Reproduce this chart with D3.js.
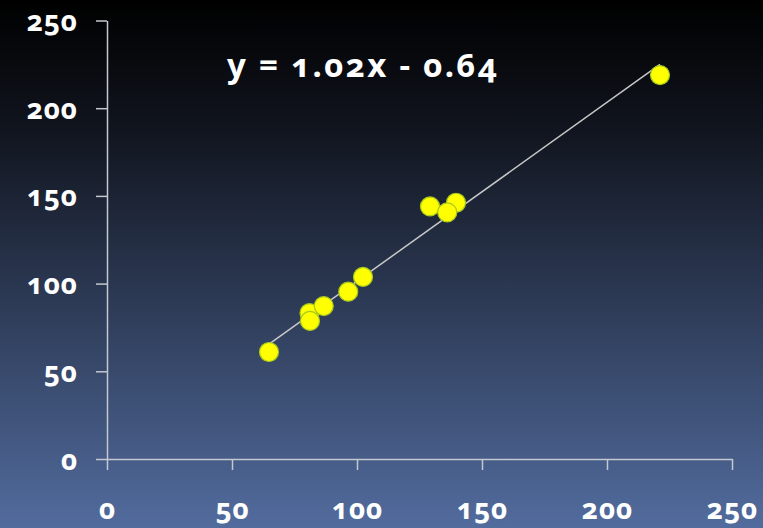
<!DOCTYPE html>
<html>
<head>
<meta charset="utf-8">
<script src="https://cdn.jsdelivr.net/npm/d3@7"></script>
<style>
  html, body { margin: 0; padding: 0; background: #000; }
  svg { display: block; }
  text { font-family: "Noto Sans", "Open Sans", sans-serif; font-weight: 700; fill: #ffffff;
         font-feature-settings: "onum" 1; }
</style>
</head>
<body>
<svg id="chart" width="763" height="528"></svg>
<script>
// Observed pairs (x, y)
const xValues = [64.8, 81.0, 81.2, 86.7, 96.5, 102.4, 129.2, 139.6, 136.1, 221.2];
const yValues = [61.0, 83.2, 78.7, 87.2, 95.4, 103.8, 144.0, 146.1, 140.6, 218.9];
const tickValues = [0, 50, 100, 150, 200, 250];
// Least-squares fit shown on the chart
const slope = 1.02;
const intercept = -0.64;
const equationLabel = "y = 1.02x - 0.64";

const W = 763, H = 528;
const svg = d3.select("#chart");

// Background: black at the top fading to slate blue at the bottom
const defs = svg.append("defs");
const grad = defs.append("linearGradient")
  .attr("id", "bg").attr("x1", 0).attr("y1", 0).attr("x2", 0).attr("y2", 1);
grad.append("stop").attr("offset", "0%").attr("stop-color", "#000000");
grad.append("stop").attr("offset", "25%").attr("stop-color", "#11151f");
grad.append("stop").attr("offset", "100%").attr("stop-color", "#526c9e");
svg.append("rect").attr("width", W).attr("height", H).attr("fill", "url(#bg)");

const x = d3.scaleLinear().domain([0, 250]).range([107, 732]);
const y = d3.scaleLinear().domain([0, 250]).range([459, 20.5]);

const axisColor = "#c4c8d0";

// Y axis
const gy = svg.append("g").attr("transform", `translate(${x(0)},0)`)
  .call(d3.axisLeft(y).tickValues(tickValues).tickSize(11).tickSizeOuter(0).tickPadding(18));
// X axis
const gx = svg.append("g").attr("transform", `translate(0,${y(0)})`)
  .call(d3.axisBottom(x).tickValues(tickValues).tickSize(11).tickSizeOuter(0).tickPadding(0));

[gx, gy].forEach(g => {
  g.attr("font-family", null).attr("font-size", null);
  g.select(".domain").attr("stroke", axisColor).attr("stroke-width", 1.5);
  g.selectAll(".tick line").attr("stroke", axisColor).attr("stroke-width", 1.5);
  g.selectAll(".tick text").attr("fill", "#ffffff")
    .style("font-size", "28px").style("letter-spacing", "0.8px");
});
gy.selectAll(".tick text").attr("dy", "10px");
gx.selectAll(".tick text").attr("y", 60).attr("dy", 0);

// Fitted line across the range of the observations
const xMin = d3.min(xValues), xMax = d3.max(xValues);
svg.append("line")
  .attr("x1", x(xMin)).attr("y1", y(slope * xMin + intercept))
  .attr("x2", x(xMax)).attr("y2", y(slope * xMax + intercept))
  .attr("stroke", "#c8c8c8").attr("stroke-width", 1.5);

// Observations
svg.append("g").selectAll("circle")
  .data(xValues.map((v, i) => [v, yValues[i]]))
  .join("circle")
  .attr("cx", d => x(d[0]))
  .attr("cy", d => y(d[1]))
  .attr("r", 9.5)
  .attr("fill", "#ffff00")
  .attr("stroke", "#a6c81e")
  .attr("stroke-width", 1.2);

// Equation label, spread to its wide set width
svg.append("text")
  .attr("x", 227).attr("y", 77)
  .style("font-size", "33px")
  .attr("xml:space", "preserve")
  .attr("textLength", 270)
  .attr("lengthAdjust", "spacing")
  .text(equationLabel);
</script>
</body>
</html>
